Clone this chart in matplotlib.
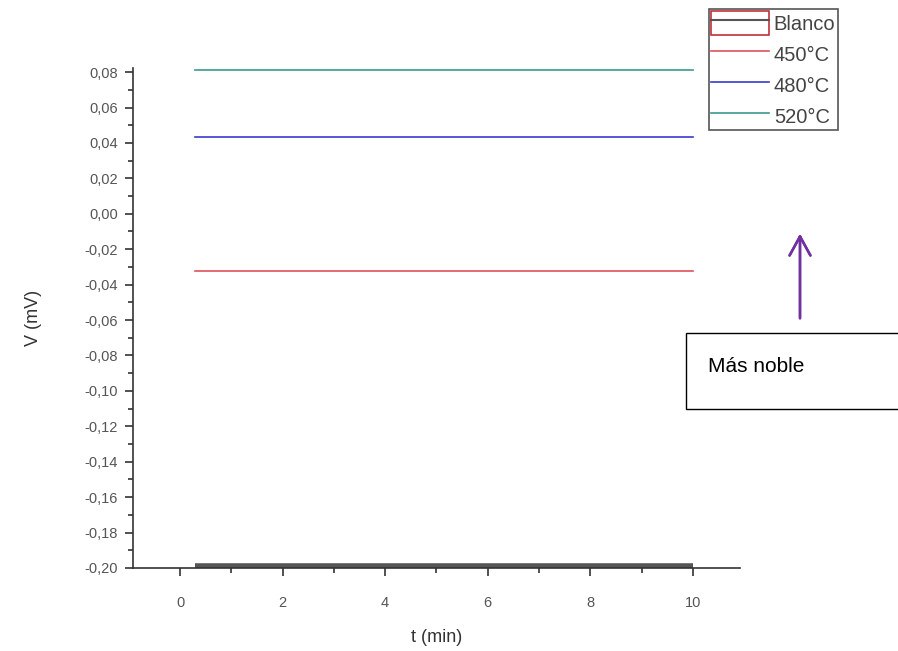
import matplotlib.pyplot as plt
from matplotlib.patches import Rectangle
from matplotlib.lines import Line2D
from matplotlib.legend_handler import HandlerTuple
from matplotlib.ticker import MultipleLocator, FuncFormatter

plt.rcParams['font.family'] = ['Liberation Sans', 'DejaVu Sans']

# datos
t = [0.3, 10.0]
blanco = [-0.1988, -0.1988]
v450 = [-0.0322, -0.0322]
v480 = [0.0435, 0.0435]
v520 = [0.0811, 0.0811]

fig = plt.figure(figsize=(8.98, 6.51), dpi=100)
ax = fig.add_axes([0.148, 0.1275, 0.676, 0.768])

ax.plot(t, blanco, color='#555555', lw=4, solid_capstyle='butt')
ax.plot(t, v450, color='#e0505a', lw=1.2)
ax.plot(t, v480, color='#3a3ad0', lw=1.2)
ax.plot(t, v520, color='#3a9a90', lw=1.2)

ax.set_xlim(-0.92, 10.92)
ax.set_ylim(-0.20, 0.0823)
for s in ['top', 'right']:
    ax.spines[s].set_visible(False)
for s in ['left', 'bottom']:
    ax.spines[s].set_color('#333333')
    ax.spines[s].set_linewidth(1.2)

ax.xaxis.set_major_locator(MultipleLocator(2))
ax.xaxis.set_minor_locator(MultipleLocator(1))
ax.yaxis.set_major_locator(MultipleLocator(0.02))
ax.yaxis.set_minor_locator(MultipleLocator(0.01))
ax.yaxis.set_major_formatter(FuncFormatter(lambda v, p: f'{v:.2f}'.replace('.', ',').replace('-0,00', '0,00')))
ax.tick_params(which='major', direction='out', length=6, width=1.2, color='#333333',
               labelsize=10.5, labelcolor='#555555')
ax.tick_params(which='minor', direction='out', length=3.5, width=1.2, color='#333333')
ax.tick_params(axis='x', pad=14)
ax.tick_params(axis='y', pad=5)

ax.set_xlabel('t (min)', fontsize=13, color='#333333', labelpad=14)
ax.set_ylabel('V (mV)', fontsize=13, color='#333333', labelpad=30)

h_blanco = (Rectangle((0, 0), 1, 1, facecolor='none', edgecolor='#c03038', lw=1.2),
            Line2D([], [], color='#555555', lw=1.5))
h450 = Line2D([], [], color='#e0505a', lw=1.2)
h480 = Line2D([], [], color='#3a3ad0', lw=1.2)
h520 = Line2D([], [], color='#3a9a90', lw=1.2)
leg = fig.legend([h_blanco, h450, h480, h520], ['Blanco', '450°C', '480°C', '520°C'],
                 handler_map={tuple: HandlerTuple(ndivide=1)},
                 loc='upper left', bbox_to_anchor=(0.79, 0.986),
                 fontsize=14.5, handlelength=2.85, handleheight=1.45, handletextpad=0.25,
                 labelspacing=0.35, borderpad=0.1, borderaxespad=0, fancybox=False,
                 framealpha=1)
leg.get_frame().set_edgecolor('#555555')
leg.get_frame().set_linewidth(1.2)
for txt in leg.get_texts():
    txt.set_color('#444444')

# flecha y caja de texto
fig.add_artist(Rectangle((686 / 898, 1 - 409 / 651), 0.26, 76 / 651, transform=fig.transFigure,
                         facecolor='white', edgecolor='black', lw=1))
fig.text(708 / 898, 1 - 366 / 651, 'Más noble', fontsize=15, va='center', ha='left')
fig.add_artist(plt.annotate('', xy=(800 / 898, 1 - 231 / 651), xytext=(800 / 898, 1 - 321 / 651),
                            xycoords='figure fraction',
                            arrowprops=dict(arrowstyle='->,head_length=0.55,head_width=0.3',
                                            color='#7030a0', lw=1.8, mutation_scale=25)))

fig.savefig('out.png', dpi=100)
